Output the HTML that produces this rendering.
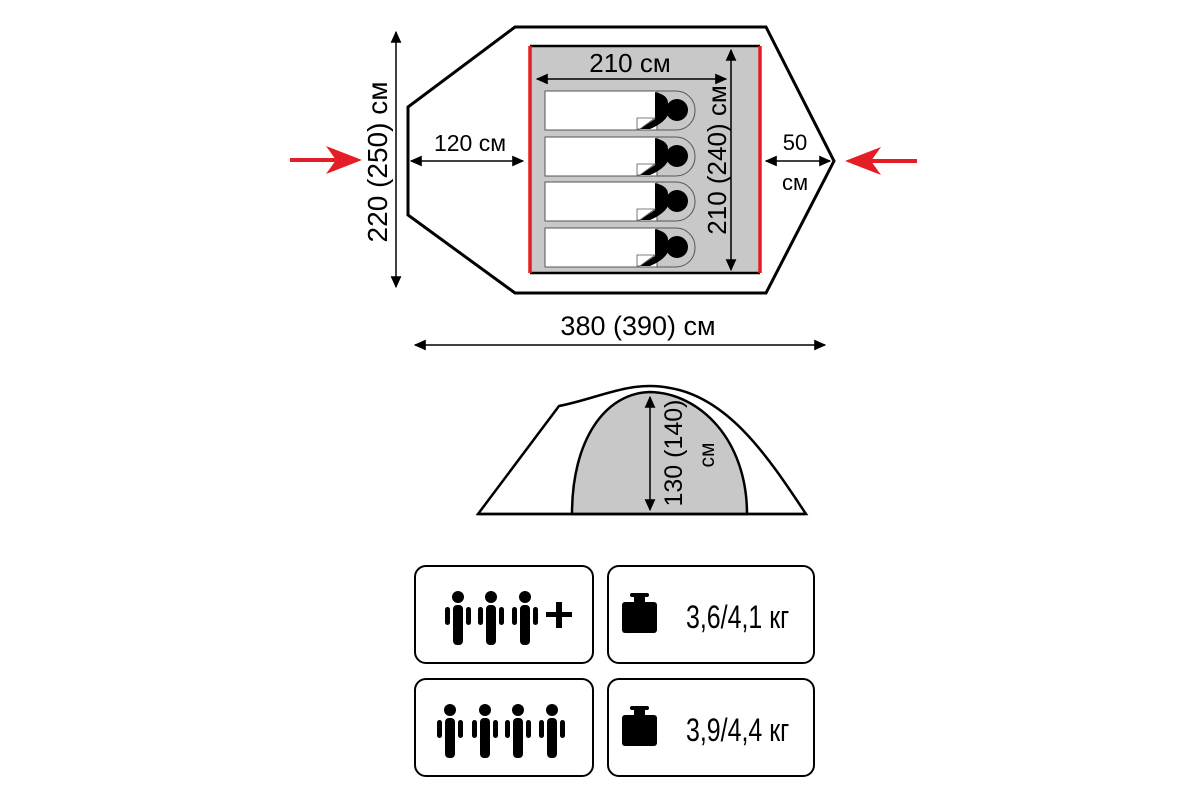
<!DOCTYPE html>
<html><head><meta charset="utf-8"><style>
html,body{margin:0;padding:0;background:#fff;}
svg{display:block;font-family:"Liberation Sans",sans-serif;}
</style></head><body>
<svg width="1200" height="800" viewBox="0 0 1200 800" xmlns="http://www.w3.org/2000/svg">
<defs>
<marker id="a" viewBox="0 0 10 10" refX="9" refY="5" markerWidth="8" markerHeight="8" orient="auto-start-reverse"><path d="M0,0.5L10,5L0,9.5z" fill="#000"/></marker>
<g id="bag">
<rect x="545" y="0" width="150" height="39" rx="19" fill="#c8c8c8" stroke="#555" stroke-width="1"/>
<rect x="545" y="0" width="112" height="39" fill="#fff" stroke="#555" stroke-width="1"/>
<path d="M655,1 Q668,4 668,12 Q672,18 668,24 Q664,32 650,38 L640,38 L655,28 L655,26 Z" fill="#000"/>
<circle cx="677" cy="19" r="11" fill="#000"/>
<path d="M637,27 L655,27 L640,38 L637,38 Z" fill="#fff" stroke="#555" stroke-width="0.8"/>
</g>
<g id="p">
<circle cx="0" cy="0" r="6" fill="#000"/>
<rect x="-5" y="8" width="10" height="40" rx="4" fill="#000"/>
<rect x="-13" y="10" width="5" height="18" rx="2.5" fill="#000"/>
<rect x="8" y="10" width="5" height="18" rx="2.5" fill="#000"/>
</g>
<g id="w">
<rect x="622" y="602" width="35" height="31" rx="3" fill="#000"/>
<rect x="634" y="596" width="11" height="8" fill="#000"/>
<rect x="630" y="593" width="19" height="4" rx="2" fill="#000"/>
</g>
</defs>
<polygon points="515,27 766,27 834,161 766,293 515,293 408,215 408,107" fill="#fff" stroke="#000" stroke-width="3"/>
<rect x="530" y="46" width="230" height="227" fill="#c8c8c8"/>
<line x1="530" y1="46" x2="760" y2="46" stroke="#000" stroke-width="2.5"/>
<line x1="530" y1="273" x2="760" y2="273" stroke="#000" stroke-width="2.5"/>
<line x1="530" y1="46" x2="530" y2="273" stroke="#e31e24" stroke-width="3.5"/>
<line x1="760" y1="46" x2="760" y2="273" stroke="#e31e24" stroke-width="3.5"/>
<use href="#bag" y="91"/>
<use href="#bag" y="137"/>
<use href="#bag" y="182"/>
<use href="#bag" y="228"/>
<line x1="537" y1="79" x2="726" y2="79" stroke="#000" stroke-width="1.5" marker-start="url(#a)" marker-end="url(#a)"/>
<text x="630" y="72" font-size="26" text-anchor="middle">210 см</text>
<line x1="731" y1="50" x2="731" y2="270" stroke="#000" stroke-width="1.5" marker-start="url(#a)" marker-end="url(#a)"/>
<text transform="translate(726,160) rotate(-90)" font-size="26" text-anchor="middle">210 (240) см</text>
<line x1="396" y1="32" x2="396" y2="287" stroke="#000" stroke-width="1.5" marker-start="url(#a)" marker-end="url(#a)"/>
<text transform="translate(387,162) rotate(-90)" font-size="28" text-anchor="middle">220 (250) см</text>
<line x1="411" y1="161" x2="523" y2="161" stroke="#000" stroke-width="1.5" marker-start="url(#a)" marker-end="url(#a)"/>
<text x="470" y="151" font-size="23" text-anchor="middle">120 см</text>
<line x1="766" y1="161" x2="830" y2="161" stroke="#000" stroke-width="1.5" marker-start="url(#a)" marker-end="url(#a)"/>
<text x="795" y="150" font-size="22" text-anchor="middle">50</text>
<text x="795" y="190" font-size="22" text-anchor="middle">см</text>
<line x1="290" y1="160" x2="345" y2="160" stroke="#e31e24" stroke-width="4"/>
<path d="M362,160 L326,146 L336,160 L326,174 Z" fill="#e31e24"/>
<line x1="917" y1="161" x2="860" y2="161" stroke="#e31e24" stroke-width="4"/>
<path d="M845,161 L881,147 L871,161 L881,175 Z" fill="#e31e24"/>
<text x="638" y="335" font-size="27" text-anchor="middle">380 (390) см</text>
<line x1="415" y1="345" x2="825" y2="345" stroke="#000" stroke-width="1.5" marker-start="url(#a)" marker-end="url(#a)"/>
<path d="M478,514 L559,406 C600,398 630,380 670,388 C730,398 770,460 806,514 Z" fill="#fff" stroke="#000" stroke-width="2.5"/>
<path d="M572,514 C572,440 605,393 650,392 C700,393 747,440 747,514 Z" fill="#c8c8c8" stroke="#000" stroke-width="2.5"/>
<line x1="478" y1="514" x2="806" y2="514" stroke="#000" stroke-width="2.5"/>
<line x1="650" y1="397" x2="650" y2="510" stroke="#000" stroke-width="1.5" marker-start="url(#a)" marker-end="url(#a)"/>
<text transform="translate(682,453) rotate(-90)" font-size="25" text-anchor="middle">130 (140)</text>
<text transform="translate(714,455) rotate(-90)" font-size="21" text-anchor="middle">см</text>
<rect x="415" y="566" width="178" height="97" rx="11" fill="#fff" stroke="#000" stroke-width="2"/>
<rect x="608" y="566" width="206" height="97" rx="11" fill="#fff" stroke="#000" stroke-width="2"/>
<rect x="415" y="679" width="178" height="97" rx="11" fill="#fff" stroke="#000" stroke-width="2"/>
<rect x="608" y="679" width="206" height="97" rx="11" fill="#fff" stroke="#000" stroke-width="2"/>
<use href="#p" x="458" y="597"/>
<use href="#p" x="491" y="597"/>
<use href="#p" x="525" y="597"/>
<rect x="546" y="612" width="26" height="5" fill="#000"/>
<rect x="556" y="602" width="6" height="26" fill="#000"/>
<use href="#p" x="450" y="710"/>
<use href="#p" x="485" y="710"/>
<use href="#p" x="518" y="710"/>
<use href="#p" x="552" y="710"/>
<use href="#w"/>
<use href="#w" y="113"/>
<text transform="translate(686,628) scale(0.78,1)" font-size="32">3,6/4,1 кг</text>
<text transform="translate(686,741) scale(0.78,1)" font-size="32">3,9/4,4 кг</text>
</svg>
</body></html>
